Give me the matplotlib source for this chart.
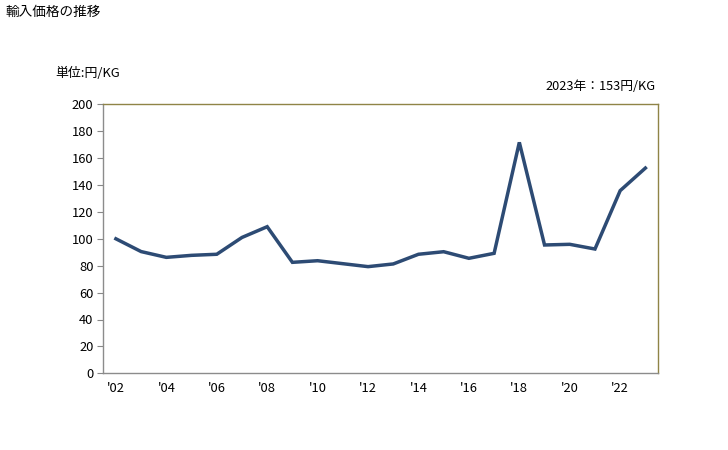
import matplotlib
matplotlib.use("Agg")
import matplotlib.pyplot as plt

plt.rcParams['font.family'] = ['Noto Sans CJK JP', 'DejaVu Sans']

years = list(range(2002, 2024))
values = [100, 90.5, 86.2, 87.7, 88.5, 101, 109, 82.5, 83.7, 81.5, 79.3, 81.3,
          88.5, 90.4, 85.5, 89.2, 171.7, 95.4, 95.9, 92.4, 135.8, 152.6]
tick_years = list(range(2002, 2024, 2))
tick_labels = ["'%02d" % (y % 100) for y in tick_years]
yticks = list(range(0, 201, 20))

W, H = 728, 450
fig = plt.figure(figsize=(W / 100, H / 100), dpi=100)
ax = fig.add_axes([103.3 / W, 1 - 373.3 / H, (658 - 103.3) / W, (373.3 - 104.3) / H])

ax.plot(years, values, color='#2D4B74', linewidth=2.5, solid_joinstyle='miter')
ax.set_xlim(2001.5, 2023.5)
ax.set_ylim(0, 200)
ax.set_yticks(yticks)
ax.set_xticks(tick_years)
ax.set_xticklabels(tick_labels)
ax.tick_params(axis='y', length=4, width=0.8, color='#888888', labelsize=9.3, pad=3)
ax.tick_params(axis='x', length=0, labelsize=9.3, pad=6)

for s in ['left', 'bottom']:
    ax.spines[s].set_color('#8c8c8c')
    ax.spines[s].set_linewidth(1.0)
for s in ['top', 'right']:
    ax.spines[s].set_color('#8F8447')
    ax.spines[s].set_linewidth(1.0)

fig.text(5 / W, 1 - 12 / H, '輸入価格の推移', fontsize=9.8, va='center', ha='left')
fig.text(55 / W, 1 - 73 / H, '単位:円/KG', fontsize=9.3, va='center', ha='left')
fig.text(656 / W, 1 - 86 / H, '2023年：153円/KG', fontsize=9.2, va='center', ha='right')

fig.savefig('out.png', dpi=100)
